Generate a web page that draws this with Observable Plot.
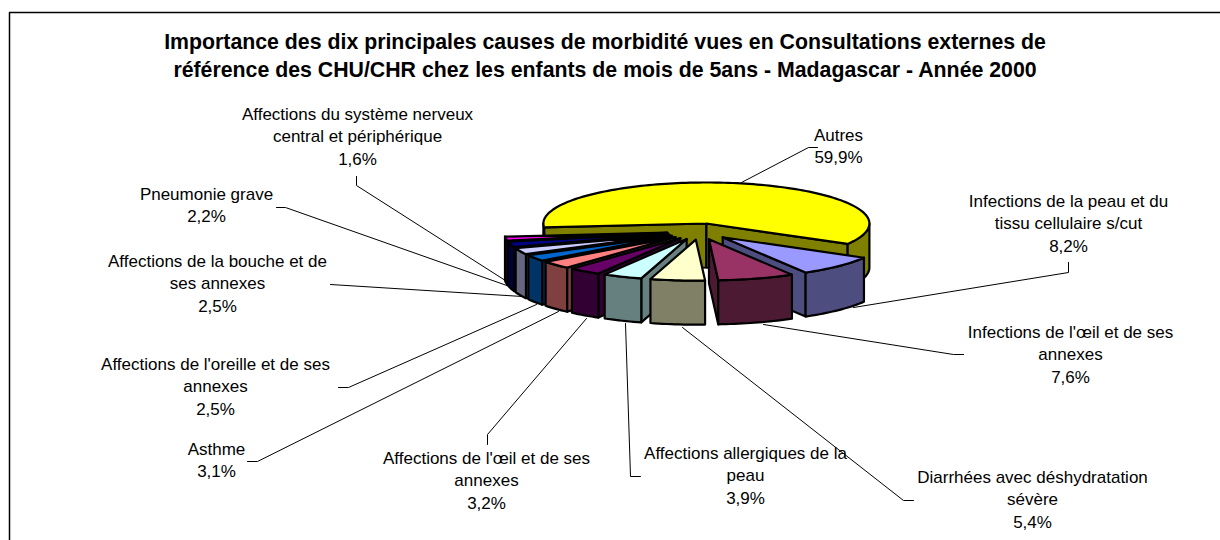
<!DOCTYPE html>
<html><head><meta charset="utf-8">
<script src="https://cdn.jsdelivr.net/npm/d3@7"></script>
<script src="https://cdn.jsdelivr.net/npm/@observablehq/plot@0.6"></script>
<style>html,body{margin:0;padding:0;background:#fff}</style>
</head><body><div id="chart"></div>
<script>
const categories = ["Autres","Infections de la peau et du tissu cellulaire s/cut","Infections de l'œil et de ses annexes","Diarrhées avec déshydratation sévère","Affections allergiques de la peau","Affections de l'œil et de ses annexes","Asthme","Affections de l'oreille et de ses annexes","Affections de la bouche et de ses annexes","Pneumonie grave","Affections du système nerveux central et périphérique"];
const values = [59.9,8.2,7.6,5.4,3.9,3.2,3.1,2.5,2.5,2.2,1.6];
const valueLabels = ["59,9%","8,2%","7,6%","5,4%","3,9%","3,2%","3,1%","2,5%","2,5%","2,2%","1,6%"];
const labelLines = [["Autres"],["Infections de la peau et du","tissu cellulaire s/cut"],["Infections de l'œil et de ses","annexes"],["Diarrhées avec déshydratation","sévère"],["Affections allergiques de la","peau"],["Affections de l'œil et de ses","annexes"],["Asthme"],["Affections de l'oreille et de ses","annexes"],["Affections de la bouche et de","ses annexes"],["Pneumonie grave"],["Affections du système nerveux","central et périphérique"]];
const topColors = ["#FFFF00","#9999FF","#993366","#FFFFCC","#CCFFFF","#660066","#FF8080","#0066CC","#CCCCFF","#000080","#FF00FF"];
const sideColors = ["#808000","#4D4D80","#4D1A33","#808066","#668080","#330033","#804040","#003366","#666680","#000040","#800080"];
const titleLines = ["Importance des dix principales causes de morbidité vues en Consultations externes de","référence des CHU/CHR chez les enfants de mois de 5ans - Madagascar - Année 2000"];

// layout (separate from the data)
const labelAnchors = [[838,135],[1068,201],[1070,332],[1032,477],[745,453],[486,458],[216,449],[215,364],[217,261],[206,194],[357,114]];
const lineStep = 22.5;
const leaders = [
 [[741,182],[808,147],[817,147]],
 [[853,307],[1068,272],[1068,262]],
 [[763,324],[953,354],[963,354]],
 [[682,327],[903,500],[913,500]],
 [[625,323],[630,476],[640,476]],
 [[586,318],[487,434],[487,444]],
 [[558,311],[257,461],[247,461]],
 [[536,304],[348,387],[338,387]],
 [[522,296],[330,284]],
 [[512,287],[285,207],[276,207]],
 [[508,282],[356,185],[356,176]]
];
const pie = {cx:699,cy:231,rx:163,ry:41,depth:44,explode:0.2,start:264.5};
const paintOrder = [0,10,9,8,7,6,5,4,1,2,3];

const total = d3.sum(values);
const rad = d => d*Math.PI/180;
let acc = pie.start;
const slices = values.map((v,i)=>{
  const a0 = acc, a1 = acc + v/total*360; acc = a1;
  const mid = rad((a0+a1)/2);
  return {i,a0,a1,ax:pie.cx+pie.explode*pie.rx*Math.sin(mid),ay:pie.cy-pie.explode*pie.ry*Math.cos(mid)};
});
const rim = (s,deg)=>[s.ax+pie.rx*Math.sin(rad(deg)), s.ay-pie.ry*Math.cos(rad(deg))];
const arcAngles = (a0,a1)=>{const n=Math.max(2,Math.ceil((a1-a0)/1.5));return d3.range(n+1).map(k=>a0+(a1-a0)*k/n);};

const faces=[]; let fid=0;
function addFace(pts,color){const id=fid++; const closed=[...pts,pts[0]]; closed.forEach(p=>faces.push({x:p[0],y:p[1],id,color}));}
for(const idx of paintOrder){
  const s=slices[idx], side=sideColors[idx], d=pie.depth;
  const radial=(deg)=>{const p=rim(s,deg);addFace([[s.ax,s.ay],p,[p[0],p[1]+d],[s.ax,s.ay+d]],side);};
  if(Math.cos(rad(s.a0-90))<0) radial(s.a0);
  if(Math.cos(rad(s.a1+90))<0) radial(s.a1);
  // outer wall on each front-facing stretch of the rim
  for(const shift of [0,360]){
    const lo=Math.max(s.a0,90+shift), hi=Math.min(s.a1,270+shift);
    if(hi>lo){
      const top=arcAngles(lo,hi).map(a=>rim(s,a));
      addFace([...top,...top.slice().reverse().map(p=>[p[0],p[1]+d])],side);
    }
  }
  addFace([[s.ax,s.ay],...arcAngles(s.a0,s.a1).map(a=>rim(s,a))],topColors[idx]);
}

const texts=[];
labelLines.forEach((lines,i)=>{
  [...lines,valueLabels[i]].forEach((t,k)=>texts.push({t,x:labelAnchors[i][0],y:labelAnchors[i][1]+k*lineStep}));
});
const titles=titleLines.map((t,k)=>({t,x:604.5,y:42+k*28}));
const leaderRows=leaders.flatMap((l,i)=>l.map(p=>({x:p[0],y:p[1],i})));
const frameRows=[{x:9,y:540},{x:9,y:12},{x:1220,y:12}];

const chart=Plot.plot({
  width:1220,height:540,margin:0,
  x:{domain:[0,1220],range:[0,1220],axis:null},
  y:{domain:[0,540],range:[0,540],axis:null},
  style:{background:"#fff",fontFamily:"'Liberation Sans',Arial,sans-serif"},
  marks:[
    Plot.line(frameRows,{x:"x",y:"y",stroke:"#000",strokeWidth:1.5}),
    Plot.line(leaderRows,{x:"x",y:"y",z:"i",stroke:"#000",strokeWidth:1}),
    Plot.line(faces,{x:"x",y:"y",z:"id",fill:"color",stroke:"#000",strokeWidth:2.2,strokeLinejoin:"round",curve:"linear"}),
    Plot.text(texts,{x:"x",y:"y",text:"t",fontSize:17,fill:"#000",textAnchor:"middle",lineAnchor:"middle"}),
    Plot.text(titles,{x:"x",y:"y",text:"t",fontSize:21.3,fontWeight:"bold",fill:"#000",textAnchor:"middle",lineAnchor:"middle"})
  ]
});
document.getElementById("chart").appendChild(chart);
</script></body></html>
